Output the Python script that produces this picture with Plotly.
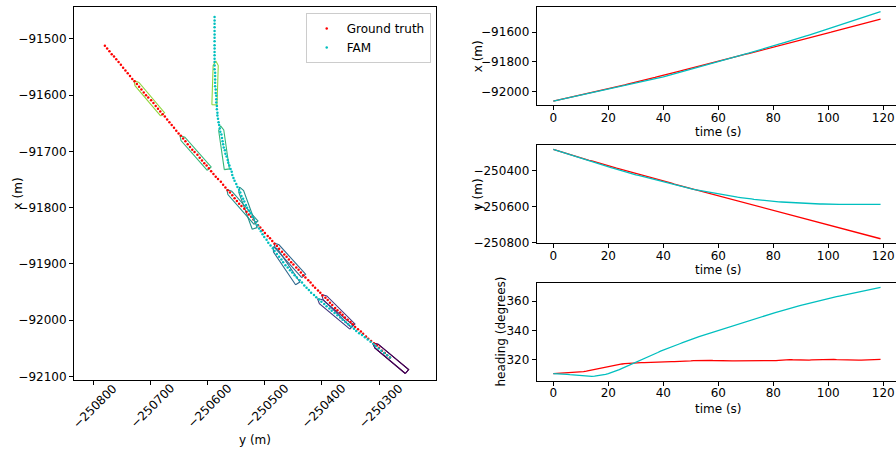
import numpy as np
import plotly.graph_objects as go
from plotly.colors import sample_colorscale

# ---------------- data ----------------
time_s = list(range(120))

gt_x = [-92066, -92062, -92058, -92054, -92049, -92045, -92041, -92037, -92033, -92029,
        -92024, -92020, -92016, -92012, -92007, -92003, -91999, -91995, -91990, -91986,
        -91982, -91978, -91973, -91969, -91964, -91960, -91956, -91951, -91947, -91942,
        -91938, -91933, -91929, -91924, -91920, -91915, -91910, -91906, -91901, -91897,
        -91892, -91887, -91883, -91878, -91873, -91868, -91864, -91859, -91854, -91850,
        -91845, -91840, -91835, -91831, -91826, -91821, -91816, -91812, -91807, -91802,
        -91797, -91793, -91788, -91783, -91778, -91773, -91769, -91764, -91759, -91754,
        -91749, -91745, -91740, -91735, -91730, -91725, -91721, -91716, -91711, -91706,
        -91701, -91697, -91692, -91687, -91682, -91677, -91672, -91668, -91663, -91658,
        -91653, -91648, -91643, -91638, -91634, -91629, -91624, -91619, -91614, -91609,
        -91604, -91600, -91595, -91590, -91585, -91580, -91575, -91571, -91566, -91561,
        -91556, -91551, -91546, -91541, -91536, -91531, -91527, -91522, -91517, -91512]

gt_y = [-250281, -250286, -250290, -250295, -250300, -250304, -250309, -250314, -250319, -250323,
        -250328, -250332, -250337, -250342, -250346, -250350, -250355, -250360, -250364, -250368,
        -250373, -250377, -250382, -250386, -250390, -250394, -250399, -250403, -250407, -250412,
        -250416, -250420, -250424, -250429, -250433, -250437, -250441, -250445, -250450, -250454,
        -250458, -250462, -250466, -250470, -250475, -250479, -250483, -250487, -250491, -250495,
        -250500, -250504, -250508, -250512, -250516, -250520, -250524, -250528, -250532, -250536,
        -250541, -250545, -250549, -250553, -250557, -250561, -250565, -250569, -250573, -250577,
        -250582, -250586, -250590, -250594, -250598, -250602, -250606, -250610, -250614, -250618,
        -250623, -250627, -250631, -250635, -250639, -250643, -250647, -250651, -250655, -250659,
        -250663, -250667, -250671, -250675, -250679, -250683, -250687, -250691, -250695, -250699,
        -250704, -250708, -250712, -250716, -250720, -250724, -250728, -250732, -250736, -250740,
        -250744, -250748, -250752, -250756, -250760, -250764, -250768, -250772, -250776, -250780]

gt_heading = [310.3, 310.4, 310.5, 310.6, 310.7, 310.8, 310.9, 311.0, 311.1, 311.2,
              311.4, 311.7, 312.0, 312.4, 312.8, 313.2, 313.6, 314.0, 314.4, 314.8,
              315.2, 315.6, 316.0, 316.3, 316.6, 316.9, 317.1, 317.3, 317.5, 317.6,
              317.7, 317.8, 317.8, 317.9, 318.0, 318.0, 318.1, 318.2, 318.2, 318.3,
              318.4, 318.4, 318.4, 318.5, 318.5, 318.5, 318.6, 318.7, 318.8, 318.9,
              319.0, 319.2, 319.3, 319.5, 319.6, 319.6, 319.5, 319.4, 319.3, 319.2,
              319.1, 319.1, 319.0, 319.0, 319.0, 319.1, 319.1, 319.1, 319.0, 319.0,
              319.0, 319.0, 318.9, 318.9, 318.8, 318.8, 318.8, 318.8, 318.8, 318.9,
              319.0, 319.2, 319.4, 319.6, 319.8, 319.9, 319.9, 319.8, 319.7, 319.6,
              319.5, 319.5, 319.5, 319.6, 319.7, 319.8, 319.9, 320.0, 320.1, 320.2,
              320.2, 320.2, 320.1, 319.9, 319.8, 319.6, 319.5, 319.4, 319.4, 319.4,
              319.4, 319.5, 319.6, 319.7, 319.8, 319.9, 320.0, 320.0, 320.0, 320.0]

fam_x = [-92066, -92062, -92058, -92054, -92050, -92046, -92042, -92038, -92034, -92030,
         -92026, -92023, -92019, -92015, -92011, -92007, -92003, -91999, -91995, -91991,
         -91987, -91983, -91979, -91975, -91971, -91967, -91963, -91959, -91955, -91951,
         -91946, -91942, -91938, -91933, -91929, -91924, -91920, -91915, -91911, -91906,
         -91902, -91897, -91892, -91887, -91882, -91877, -91872, -91867, -91862, -91857,
         -91852, -91847, -91842, -91837, -91831, -91826, -91821, -91816, -91810, -91805,
         -91800, -91795, -91789, -91784, -91779, -91773, -91768, -91763, -91758, -91752,
         -91747, -91742, -91736, -91731, -91725, -91720, -91715, -91709, -91704, -91698,
         -91693, -91687, -91682, -91676, -91670, -91665, -91659, -91653, -91648, -91642,
         -91636, -91631, -91625, -91619, -91613, -91607, -91601, -91596, -91590, -91584,
         -91578, -91572, -91566, -91560, -91554, -91547, -91541, -91535, -91529, -91523,
         -91517, -91511, -91504, -91498, -91492, -91486, -91479, -91473, -91467, -91461]

fam_y = [-250281, -250286, -250291, -250296, -250301, -250306, -250310, -250315, -250320, -250325,
         -250330, -250335, -250340, -250344, -250349, -250354, -250359, -250364, -250368, -250373,
         -250378, -250383, -250387, -250392, -250396, -250401, -250405, -250410, -250414, -250419,
         -250423, -250427, -250431, -250435, -250439, -250444, -250448, -250452, -250456, -250460,
         -250464, -250468, -250471, -250475, -250479, -250483, -250486, -250490, -250494, -250497,
         -250501, -250504, -250507, -250510, -250513, -250516, -250519, -250522, -250525, -250528,
         -250531, -250533, -250536, -250538, -250541, -250543, -250545, -250548, -250550, -250553,
         -250555, -250557, -250558, -250560, -250562, -250564, -250565, -250567, -250569, -250570,
         -250572, -250573, -250574, -250575, -250576, -250578, -250579, -250580, -250581, -250582,
         -250583, -250583, -250584, -250584, -250585, -250585, -250585, -250586, -250586, -250587,
         -250587, -250587, -250587, -250587, -250588, -250588, -250588, -250588, -250588, -250588,
         -250588, -250588, -250588, -250588, -250588, -250588, -250588, -250588, -250588, -250588]

fam_heading = [310.3, 310.3, 310.2, 310.1, 310.0, 309.8, 309.6, 309.4, 309.2, 309.0,
               308.8, 308.6, 308.5, 308.4, 308.4, 308.5, 308.7, 309.0, 309.4, 309.8,
               310.3, 310.9, 311.6, 312.3, 313.1, 313.9, 314.7, 315.5, 316.3, 317.1,
               318.0, 318.9, 319.7, 320.6, 321.4, 322.3, 323.1, 324.0, 324.8, 325.7,
               326.5, 327.2, 327.9, 328.7, 329.4, 330.1, 330.8, 331.5, 332.3, 333.0,
               333.7, 334.4, 335.0, 335.7, 336.3, 337.0, 337.6, 338.3, 339.0, 339.6,
               340.3, 340.9, 341.5, 342.1, 342.7, 343.3, 343.9, 344.5, 345.1, 345.7,
               346.3, 346.9, 347.4, 348.0, 348.5, 349.1, 349.7, 350.2, 350.8, 351.3,
               351.9, 352.4, 352.9, 353.5, 354.0, 354.5, 355.0, 355.5, 356.1, 356.6,
               357.1, 357.6, 358.0, 358.5, 359.0, 359.5, 359.9, 360.4, 360.9, 361.3,
               361.8, 362.2, 362.6, 363.1, 363.5, 363.9, 364.3, 364.7, 365.2, 365.6,
               366.0, 366.4, 366.8, 367.2, 367.6, 368.0, 368.3, 368.7, 369.1, 369.5]

ship_times = [0, 20, 40, 60, 80, 100]

# tick labels
map_x_ticks = [-250800, -250700, -250600, -250500, -250400, -250300, -250200]
map_y_ticks = [-92100, -92000, -91900, -91800, -91700, -91600, -91500]
time_ticks = [0, 20, 40, 60, 80, 100, 120]
x_ticks = [-92000, -91800, -91600]
y_ticks = [-250800, -250600, -250400]
h_ticks = [320, 340, 360]


def lbl(v):
    return str(v).replace("-", "\u2212")


# ship outline in body frame (metres): along-ship, across-ship
SHIP_ALONG = np.array([-39, 31, 39, 31, -39, -39], dtype=float)
SHIP_ACROSS = np.array([-4.5, -4.5, 0, 4.5, 4.5, -4.5], dtype=float)


def ship_outline(xn, ye, hdg):
    r = np.deg2rad(hdg)
    xs = xn + SHIP_ALONG * np.cos(r) - SHIP_ACROSS * np.sin(r)
    ys = ye + SHIP_ALONG * np.sin(r) + SHIP_ACROSS * np.cos(r)
    return xs, ys


FONT = "DejaVu Sans"
RED = "#ff0000"
CYAN = "#00bfbf"
W, H = 896, 452

fig = go.Figure()

colors = sample_colorscale("Viridis", [k / len(ship_times) for k in range(len(ship_times))])
for k, t in enumerate(ship_times):
    for xs_, ys_, hs_ in ((gt_x, gt_y, gt_heading), (fam_x, fam_y, fam_heading)):
        sx, sy = ship_outline(xs_[t], ys_[t], hs_[t])
        fig.add_trace(go.Scatter(x=sy, y=sx, mode="lines", line=dict(color=colors[k], width=1.1),
                                 showlegend=False, hoverinfo="skip", xaxis="x", yaxis="y"))

fig.add_trace(go.Scatter(x=gt_y, y=gt_x, mode="markers", name="Ground truth",
                         marker=dict(color=RED, size=2.5), xaxis="x", yaxis="y"))
fig.add_trace(go.Scatter(x=fam_y, y=fam_x, mode="markers", name="FAM",
                         marker=dict(color=CYAN, size=2.5), xaxis="x", yaxis="y"))
fig.add_trace(go.Scatter(x=[gt_y[0]], y=[gt_x[0]], mode="markers", showlegend=False,
                         marker=dict(color="rgba(0,0,0,0)", size=5, symbol="circle-open",
                                     line=dict(color=RED, width=1.2)), xaxis="x", yaxis="y"))

for ax, (gt, fam) in zip(["2", "3", "4"], [(gt_x, fam_x), (gt_y, fam_y), (gt_heading, fam_heading)]):
    fig.add_trace(go.Scatter(x=time_s, y=gt, mode="lines", line=dict(color=RED, width=1.3),
                             showlegend=False, xaxis="x" + ax, yaxis="y" + ax))
    fig.add_trace(go.Scatter(x=time_s, y=fam, mode="lines", line=dict(color=CYAN, width=1.3),
                             showlegend=False, xaxis="x" + ax, yaxis="y" + ax))

common = dict(showline=True, linecolor="black", linewidth=1, ticks="outside",
              ticklen=4, tickwidth=1, tickcolor="black", showgrid=False, zeroline=False,
              tickfont=dict(family=FONT, size=12, color="black"))


def px_x(p):
    return p / W


def px_y(p):
    return 1 - p / H


time_axis = dict(domain=[px_x(536.7), 1.0], range=[-6.04, 124.62], mirror=True,
                 tickvals=time_ticks, ticktext=[str(v) for v in time_ticks],
                 ticklabelstandoff=-3, **common)

layout_axes = dict(
    xaxis=dict(domain=[px_x(74), px_x(435.7)], range=[-250834, -250201], anchor="y", mirror=True,
               tickvals=map_x_ticks, showticklabels=False, **common),
    yaxis=dict(domain=[px_y(385), px_y(7)], range=[-92106, -91443], anchor="x", mirror=True,
               tickvals=map_y_ticks, ticktext=[lbl(v) for v in map_y_ticks], **common),
    xaxis2=dict(anchor="y2", **time_axis),
    yaxis2=dict(domain=[px_y(106.9), px_y(7.2)], range=[-92096, -91430], anchor="x2", mirror=False,
                tickvals=x_ticks, ticktext=[lbl(v) for v in x_ticks], **common),
    xaxis3=dict(anchor="y3", **time_axis),
    yaxis3=dict(domain=[px_y(246.5), px_y(146.8)], range=[-250805, -250256], anchor="x3", mirror=False,
                tickvals=y_ticks, ticktext=[lbl(v) for v in y_ticks], **common),
    xaxis4=dict(anchor="y4", **time_axis),
    yaxis4=dict(domain=[px_y(386), px_y(286.7)], range=[305.3, 372.6], anchor="x4", mirror=False,
                tickvals=h_ticks, ticktext=[str(v) for v in h_ticks], **common),
)

ann = []
afont = dict(family=FONT, size=12, color="black")
# rotated tick labels for the map x axis
for v in map_x_ticks:
    ann.append(dict(x=v, y=px_y(411.7), xref="x", yref="paper", text=lbl(v), showarrow=False,
                    textangle=-45, xanchor="center", yanchor="middle", xshift=2, font=afont))
# axis titles
titles = [
    ("y (m)", 255, 445.5, 0),
    ("x (m)", 18, 196, -90),
    ("time (s)", 718, 134, 0),
    ("time (s)", 718, 274, 0),
    ("time (s)", 718, 414, 0),
    ("x (m)", 478, 57, -90),
    ("y (m)", 478, 197, -90),
    ("heading (degrees)", 501, 336, -90),
]
for text, x, y, ang in titles:
    ann.append(dict(x=px_x(x), y=px_y(y), xref="paper", yref="paper", text=text, showarrow=False,
                    textangle=ang, xanchor="center", yanchor="middle", font=afont))

fig.update_layout(
    width=W, height=H, margin=dict(l=0, r=0, t=0, b=0),
    paper_bgcolor="white", plot_bgcolor="white",
    font=dict(family=FONT, size=12, color="black"),
    legend=dict(x=px_x(430.7), y=px_y(13.3), xanchor="right", yanchor="top",
                bgcolor="rgba(255,255,255,0.8)", bordercolor="#cccccc", borderwidth=1,
                font=dict(family=FONT, size=12, color="black")),
    annotations=ann,
    **layout_axes,
)

fig.write_html("out.html", config={"displayModeBar": False},
               post_script="document.body.style.margin='0';document.body.style.padding='0';")
